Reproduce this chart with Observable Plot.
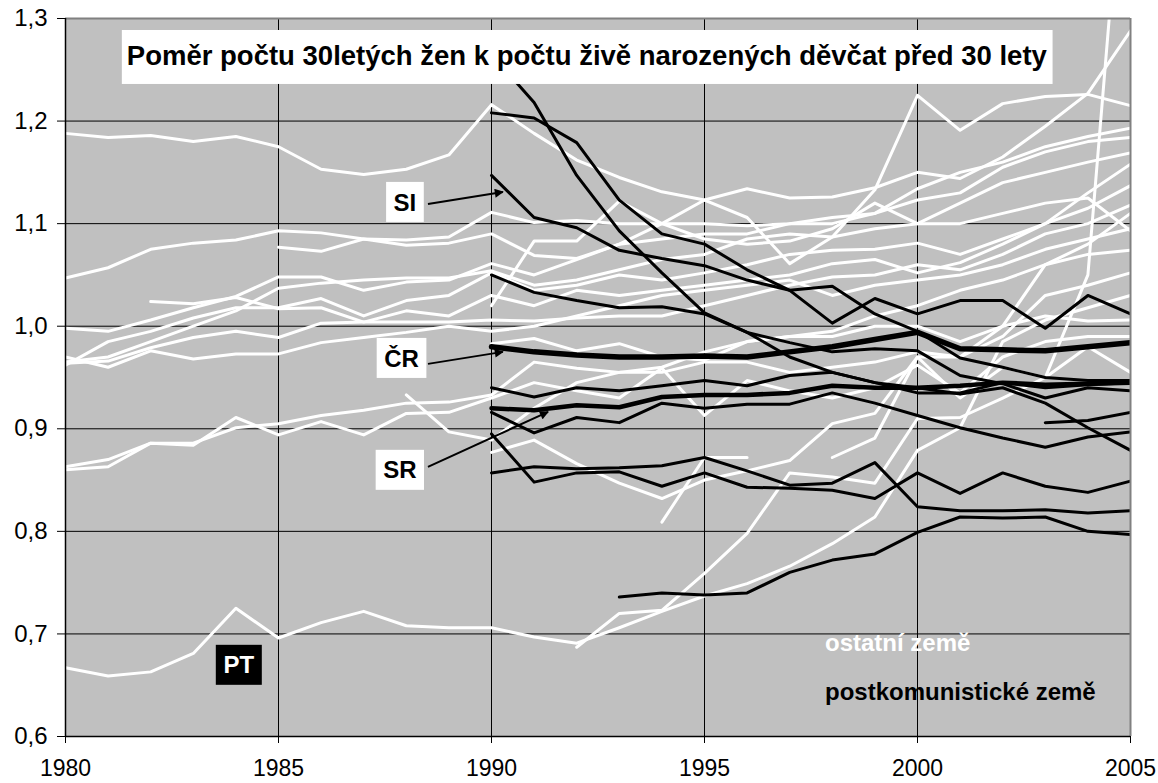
<!DOCTYPE html>
<html><head><meta charset="utf-8">
<script src="https://cdn.jsdelivr.net/npm/d3@7"></script>
<script src="https://cdn.jsdelivr.net/npm/@observablehq/plot@0.6"></script>
<style>
body{margin:0;background:#fff;}
#chart svg{display:block;}
</style>
</head><body><div id="chart"></div>
<script>
// ---------- DATA ----------
const years = [1980,1981,1982,1983,1984,1985,1986,1987,1988,1989,1990,1991,1992,1993,1994,1995,1996,1997,1998,1999,2000,2001,2002,2003,2004,2005];
const xTicks = [1980,1985,1990,1995,2000,2005];
const yTicks = [0.6,0.7,0.8,0.9,1.0,1.1,1.2,1.3];
const _ = null;

// "ostatní země" (white), values for 1980..2005
const oW1  = [1.188,1.184,1.186,1.180,1.185,1.175,1.153,1.148,1.153,1.167,1.216,1.188,1.162,1.145,1.131,1.123,1.106,1.061,1.087,1.133,1.225,1.191,1.217,1.224,1.226,1.215];
const oW2  = [1.047,1.057,1.075,1.081,1.084,1.093,1.091,1.085,1.079,1.081,1.090,1.069,1.066,1.080,1.100,1.123,1.134,1.125,1.126,1.135,1.150,1.144,1.165,1.195,1.227,1.288];
const oW3  = [0.998,0.995,1.006,1.018,1.029,1.048,1.048,1.035,1.043,1.045,1.061,1.050,1.065,1.080,1.085,1.090,1.090,1.100,1.100,1.110,1.123,1.130,1.155,1.170,1.180,1.184];
const oW4  = [0.962,0.985,0.995,1.008,1.018,1.018,1.027,1.010,1.025,1.030,1.052,1.035,1.040,1.050,1.045,1.052,1.060,1.070,1.074,1.075,1.081,1.070,1.085,1.100,1.130,1.158];
const oW5  = [0.964,0.966,0.979,0.989,0.995,0.989,1.003,1.004,1.004,1.004,1.006,1.005,1.008,1.010,1.010,1.020,1.030,1.040,1.048,1.050,1.060,1.055,1.070,1.090,1.100,1.118];
const oW6  = [0.970,0.960,0.976,0.968,0.973,0.973,0.984,0.989,0.994,1.000,0.995,1.000,1.010,1.020,1.030,1.035,1.040,1.045,1.030,1.040,1.045,1.050,1.060,1.075,1.085,1.095];
const oW7  = [0.965,0.970,0.985,1.000,1.015,1.037,1.042,1.045,1.047,1.047,1.054,1.040,1.045,1.055,1.065,1.070,1.085,1.090,1.087,1.095,1.100,1.120,1.140,1.150,1.160,1.169];
const oW8  = [_,_,1.024,1.022,1.028,1.017,1.018,1.004,1.015,1.010,1.030,1.020,1.035,1.030,1.035,1.040,1.045,1.050,1.061,1.065,1.052,1.062,1.080,1.100,1.115,1.137];
const oW9  = [_,_,_,_,_,1.077,1.073,1.085,1.084,1.087,1.111,1.101,1.103,1.100,1.100,1.100,1.098,1.100,1.106,1.110,1.134,1.150,1.160,1.175,1.185,1.193];
const oW10 = [0.863,0.870,0.886,0.886,0.901,0.905,0.913,0.918,0.925,0.926,0.933,0.965,0.959,0.955,0.955,0.965,0.965,0.955,0.960,0.965,0.975,0.970,0.990,1.030,1.040,1.052];
const oW11 = [0.860,0.863,0.886,0.884,0.911,0.894,0.907,0.894,0.915,0.916,0.930,0.945,0.937,0.930,0.959,0.913,0.947,0.937,0.930,0.940,0.962,0.935,0.970,0.985,0.990,0.990];
const oW12 = [_,_,_,_,_,_,_,_,0.933,0.897,0.889,0.920,0.945,0.955,0.960,0.975,0.985,0.990,0.995,1.010,1.020,1.035,1.045,1.060,1.070,1.074];
const oW13 = [_,_,_,_,_,_,_,_,_,_,0.877,0.889,0.866,0.847,0.832,0.850,0.859,0.869,0.905,0.915,0.970,0.930,0.960,0.950,0.980,0.955];
const oW14 = [_,_,_,_,_,_,_,_,_,_,0.983,0.988,0.976,0.983,0.970,0.967,0.985,0.990,0.990,1.000,1.000,0.985,1.000,1.010,1.005,1.006];
const oW15 = [_,_,_,_,_,_,_,_,_,_,1.020,1.083,1.083,1.122,1.100,1.085,1.080,1.083,1.095,1.120,1.100,1.100,1.110,1.120,1.125,1.093];
const oW16 = [_,_,_,_,_,_,_,_,_,_,_,_,_,_,0.809,0.872,0.872,_,_,_,_,_,_,_,_,_];
const oW17 = [_,_,_,_,_,_,_,_,_,_,_,_,0.687,0.720,0.723,0.759,0.798,0.857,0.853,0.847,0.910,0.911,0.930,0.950,1.050,1.550];
const oW19 = [_,_,_,_,_,_,_,_,_,_,_,_,_,_,_,_,_,_,0.872,0.891,0.970,0.970,1.000,1.060,1.080,1.110];
const oPT  = [0.667,0.659,0.663,0.681,0.725,0.696,0.711,0.722,0.708,0.706,0.706,0.697,0.691,0.706,0.722,0.737,0.749,0.766,0.788,0.814,0.879,0.901,0.985,1.006,1.018,1.030];

// "postkomunistické země" (black), values for 1990..2005
const pB1  = [1.265,1.218,1.147,1.093,1.052,1.013,0.994,0.970,0.955,0.945,0.935,0.935,0.945,0.940,0.943,0.945];
const pB2  = [1.208,1.203,1.179,1.123,1.090,1.080,1.055,1.035,1.039,1.012,0.995,0.969,0.960,0.950,0.947,0.947];
const pSI  = [1.147,1.106,1.096,1.074,1.066,1.059,1.045,1.035,1.003,1.027,1.012,1.025,1.025,0.998,1.030,1.012];
const pB4  = [1.050,1.033,1.025,1.018,1.019,1.012,0.994,0.984,0.975,0.978,0.976,0.952,0.944,0.930,0.940,0.937];
const pCR  = [0.980,0.975,0.972,0.970,0.970,0.971,0.970,0.975,0.980,0.987,0.994,0.978,0.977,0.976,0.980,0.984];
const pB6  = [0.940,0.931,0.940,0.937,0.942,0.947,0.942,0.952,0.955,0.945,0.940,0.934,0.940,0.925,0.901,0.879];
const pSR  = [0.920,0.918,0.923,0.921,0.931,0.933,0.933,0.935,0.942,0.940,0.940,0.942,0.945,0.943,0.944,0.945];
const pB7  = [0.916,0.896,0.911,0.906,0.925,0.920,0.924,0.924,0.935,0.925,0.913,0.901,0.891,0.882,0.892,0.897];
const pB8  = [0.895,0.848,0.857,0.858,0.844,0.857,0.843,0.842,0.840,0.832,0.857,0.837,0.857,0.844,0.838,0.849];
const pB9  = [0.857,0.863,0.861,0.862,0.864,0.872,0.859,0.845,0.847,0.867,0.824,0.820,0.820,0.821,0.818,0.820];
const pB10 = [_,_,_,0.736,0.740,0.738,0.740,0.760,0.772,0.778,0.799,0.814,0.813,0.814,0.800,0.797];
const pB11 = [_,_,_,_,_,_,_,_,_,_,_,_,_,0.906,0.908,0.916];

const otherSeries = [oW1,oW2,oW3,oW4,oW5,oW6,oW7,oW8,oW9,oW10,oW11,oW12,oW13,oW14,oW15,oW16,oW17,oW19,oPT];
const postSeries = [pB1,pB2,pSI,pB4,pB6,pB7,pB8,pB9,pB10,pB11];
const postYears = years.slice(10);

const titleText = "Poměr počtu 30letých žen k počtu živě narozených děvčat před 30 lety";
const boxLabels = [
  {text:"SI", x:1987.98, y:1.1207, ax:[1988.52,1.1187], at:[1990.28,1.1304]},
  {text:"ČR", x:1987.9, y:0.9686, ax:[1988.52,0.9628], at:[1990.28,0.9745]},
  {text:"SR", x:1987.86, y:0.8595, ax:[1988.52,0.8624], at:[1991.34,0.916]}
];
const ptLabel = {text:"PT", x:1984.08, y:0.6694};
const legendTexts = [
  {text:"ostatní země", x:1997.84, y:0.683, color:"#fff"},
  {text:"postkomunistické země", x:1997.84, y:0.635, color:"#000"}
];

// ---------- BUILD ROWS ----------
function toRows(list, yrs, prefix) {
  const out = [];
  list.forEach((vals, k) => vals.forEach((v, i) => {
    if (v !== null && v !== undefined) out.push({series: prefix + k, year: yrs[i], value: v});
  }));
  return out;
}
const whiteRows = toRows(otherSeries, years, "o");
const blackRows = toRows(postSeries, postYears, "p");
const crRows = toRows([pCR], postYears, "cr");
const srRows = toRows([pSR], postYears, "sr");

const FONT = "'Liberation Sans', Arial, sans-serif";
const fmt = d => d.toFixed(1).replace(".", ",");

const chart = Plot.plot({
  width: 1158, height: 783,
  marginLeft: 65, marginRight: 28, marginTop: 18, marginBottom: 47,
  style: {background: "#fff", fontFamily: FONT, fontSize: "23px", color: "#000"},
  x: {domain: [1980, 2005], label: null},
  y: {domain: [0.6, 1.3], label: null},
  marks: [
    Plot.frame({fill: "#c0c0c0", stroke: null}),
    Plot.gridX(xTicks, {stroke: "#000", strokeOpacity: 1, strokeWidth: 1}),
    Plot.gridY(yTicks, {stroke: "#000", strokeOpacity: 1, strokeWidth: 1}),
    Plot.line(whiteRows, {x: "year", y: "value", z: "series", stroke: "#fff", strokeWidth: 3, clip: true}),
    Plot.line(blackRows, {x: "year", y: "value", z: "series", stroke: "#000", strokeWidth: 3, clip: true}),
    Plot.line(srRows, {x: "year", y: "value", z: "series", stroke: "#000", strokeWidth: 4.5, clip: true}),
    Plot.line(crRows, {x: "year", y: "value", z: "series", stroke: "#000", strokeWidth: 5.5, clip: true}),
    Plot.ruleY([1.3], {stroke: "#808080", strokeWidth: 2}),
    Plot.ruleX([2005], {stroke: "#808080", strokeWidth: 2}),
    Plot.ruleY([0.6], {stroke: "#000", strokeWidth: 1.5}),
    Plot.ruleX([1980], {stroke: "#000", strokeWidth: 1.5}),
    Plot.axisX(xTicks, {tickSize: 7, tickPadding: 16, tickFormat: d => String(d), fontSize: 23, label: null}),
    Plot.axisY(yTicks, {tickSize: 8, tickPadding: 10, tickFormat: fmt, fontSize: 24, label: null})
  ]
});
document.getElementById("chart").appendChild(chart);

// ---------- ANNOTATIONS ----------
const sx = chart.scale("x"), sy = chart.scale("y");
const svg = d3.select(chart);
svg.append("defs").append("marker")
  .attr("id", "ah").attr("viewBox", "0 0 10 10").attr("refX", 9).attr("refY", 5)
  .attr("markerWidth", 5.5).attr("markerHeight", 4.5).attr("orient", "auto")
  .append("path").attr("d", "M0,0L10,5L0,10z").attr("fill", "#000");

const ann = svg.append("g").attr("font-family", FONT).attr("text-anchor", "start");

// title
const tg = ann.append("g");
const tt = tg.append("text").attr("x", sx.apply(1992.25)).attr("y", sy.apply(1.2542))
  .attr("text-anchor", "middle").attr("font-weight", "bold").attr("font-size", 27.5)
  .attr("fill", "#000").text(titleText);
const tb = tt.node().getBBox();
tg.insert("rect", "text").attr("x", tb.x - 5).attr("y", sy.apply(1.2883)).attr("width", tb.width + 10)
  .attr("height", sy.apply(1.2357) - sy.apply(1.2883)).attr("fill", "#fff");

function labelBox(l, bg, fg) {
  const g = ann.append("g");
  const cx = sx.apply(l.x), cy = sy.apply(l.y);
  const t = g.append("text").attr("x", cx).attr("y", cy).attr("dy", "0.36em")
    .attr("text-anchor", "middle").attr("font-weight", "bold").attr("font-size", 24)
    .attr("fill", fg).text(l.text);
  const b = t.node().getBBox();
  g.insert("rect", "text").attr("x", cx - b.width / 2 - 7.5).attr("y", cy - 20)
    .attr("width", b.width + 15).attr("height", 40).attr("fill", bg);
}
boxLabels.forEach(l => {
  ann.append("line").attr("x1", sx.apply(l.ax[0])).attr("y1", sy.apply(l.ax[1]))
    .attr("x2", sx.apply(l.at[0])).attr("y2", sy.apply(l.at[1]))
    .attr("stroke", "#000").attr("stroke-width", 2).attr("marker-end", "url(#ah)");
  labelBox(l, "#fff", "#000");
});
labelBox(ptLabel, "#000", "#fff");

legendTexts.forEach(l => {
  ann.append("text").attr("x", sx.apply(l.x)).attr("y", sy.apply(l.y)).attr("text-anchor", "start")
    .attr("font-weight", "bold").attr("font-size", 24).attr("fill", l.color).text(l.text);
});
</script>
</body></html>
